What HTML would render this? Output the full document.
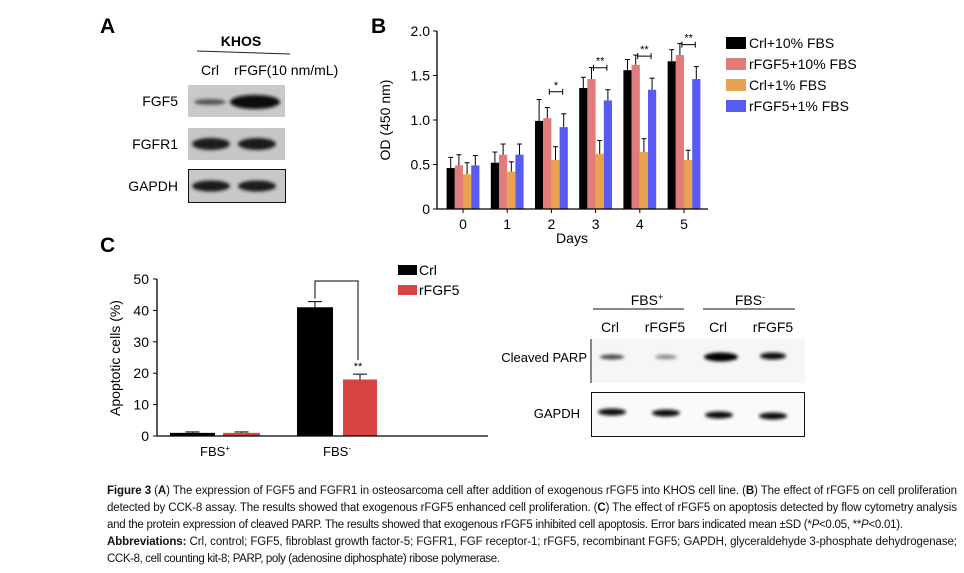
<!DOCTYPE html>
<html><head><meta charset="utf-8"><style>
html,body{margin:0;padding:0;background:#fff}
svg{display:block;font-family:"Liberation Sans",Arial,sans-serif}
</style></head><body>
<svg id="fig" width="964" height="573" viewBox="0 0 964 573" xmlns="http://www.w3.org/2000/svg">
<defs>
<filter id="bl" x="-30%" y="-100%" width="160%" height="300%"><feGaussianBlur stdDeviation="1.6"/></filter>
</defs>
<!-- Panel A -->
<g>
<text x="100" y="33" font-size="21" font-weight="bold">A</text>
<text x="241" y="46" font-size="14" font-weight="bold" text-anchor="middle">KHOS</text>
<line x1="197" y1="51" x2="290" y2="54" stroke="#222" stroke-width="1"/>
<text x="210" y="75" font-size="14" text-anchor="middle">Crl</text>
<text x="234" y="75" font-size="14">rFGF(10 nm/mL)</text>
<text x="178" y="106" font-size="14" text-anchor="end">FGF5</text>
<text x="178" y="149" font-size="14" text-anchor="end">FGFR1</text>
<text x="178" y="191" font-size="14" text-anchor="end">GAPDH</text>
<rect x="188" y="85" width="97" height="32" fill="#c9c9c9"/>
<ellipse cx="210" cy="102" rx="16" ry="3" fill="#555" filter="url(#bl)"/>
<ellipse cx="255" cy="102" rx="25" ry="7" fill="#111" filter="url(#bl)"/>
<rect x="188" y="128" width="97" height="32" fill="#c6c6c6"/>
<ellipse cx="211" cy="144" rx="19" ry="6" fill="#1a1a1a" filter="url(#bl)"/>
<ellipse cx="257" cy="144" rx="19" ry="6" fill="#1a1a1a" filter="url(#bl)"/>
<rect x="188.5" y="169.5" width="97" height="33" fill="#c8c8c8" stroke="#111"/>
<ellipse cx="211" cy="186" rx="19" ry="5.5" fill="#1a1a1a" filter="url(#bl)"/>
<ellipse cx="257" cy="186" rx="19" ry="5.5" fill="#1a1a1a" filter="url(#bl)"/>
</g>
<!-- Panel B -->
<g id="chartB">
<text x="371" y="33" font-size="21" font-weight="bold">B</text>
<text transform="translate(390,120) rotate(-90)" font-size="14" text-anchor="middle">OD (450 nm)</text>
<text x="572" y="243" font-size="14" text-anchor="middle">Days</text>
</g>
<!-- Panel C -->
<g id="chartC">
<text x="100" y="252" font-size="21" font-weight="bold">C</text>
<text transform="translate(120,358) rotate(-90)" font-size="14" text-anchor="middle">Apoptotic cells (%)</text>
</g>
<!-- Right blot -->
<g>
<text x="647" y="305" font-size="14" text-anchor="middle">FBS<tspan font-size="9" dy="-5">+</tspan></text>
<text x="750" y="305" font-size="14" text-anchor="middle">FBS<tspan font-size="9" dy="-5">-</tspan></text>
<line x1="593" y1="309" x2="684" y2="309" stroke="#111"/>
<line x1="703" y1="309" x2="795" y2="309" stroke="#111"/>
<text x="610" y="332" font-size="14" text-anchor="middle">Crl</text>
<text x="665" y="332" font-size="14" text-anchor="middle">rFGF5</text>
<text x="718" y="332" font-size="14" text-anchor="middle">Crl</text>
<text x="773" y="332" font-size="14" text-anchor="middle">rFGF5</text>
<text x="587" y="362" font-size="13" text-anchor="end">Cleaved PARP</text>
<text x="580" y="418" font-size="13" text-anchor="end">GAPDH</text>
<rect x="591" y="339" width="214" height="44" fill="#f6f6f6"/>
<line x1="591" y1="339" x2="591" y2="383" stroke="#111"/>
<ellipse cx="612" cy="357" rx="12" ry="2.5" fill="#444" filter="url(#bl)"/>
<ellipse cx="666" cy="357" rx="11" ry="2.2" fill="#888" filter="url(#bl)"/>
<ellipse cx="721" cy="357" rx="17" ry="4.5" fill="#000" filter="url(#bl)"/>
<ellipse cx="773" cy="356" rx="13" ry="3.5" fill="#111" filter="url(#bl)"/>
<rect x="591.5" y="392.5" width="213" height="44" fill="#fafafa" stroke="#111"/>
<ellipse cx="612" cy="412" rx="14" ry="3.5" fill="#111" filter="url(#bl)"/>
<ellipse cx="666" cy="413" rx="14" ry="3.5" fill="#111" filter="url(#bl)"/>
<ellipse cx="719" cy="415" rx="14" ry="3.5" fill="#111" filter="url(#bl)"/>
<ellipse cx="773" cy="416" rx="14" ry="3.5" fill="#111" filter="url(#bl)"/>
</g>
<!-- Caption -->
<g font-size="11.5" fill="#111">
<text x="107" y="494" textLength="850" lengthAdjust="spacing"><tspan font-weight="bold">Figure 3</tspan> (<tspan font-weight="bold">A</tspan>) The expression of FGF5 and FGFR1 in osteosarcoma cell after addition of exogenous rFGF5 into KHOS cell line. (<tspan font-weight="bold">B</tspan>) The effect of rFGF5 on cell proliferation</text>
<text x="107" y="511" textLength="850" lengthAdjust="spacing">detected by CCK-8 assay. The results showed that exogenous rFGF5 enhanced cell proliferation. (<tspan font-weight="bold">C</tspan>) The effect of rFGF5 on apoptosis detected by flow cytometry analysis</text>
<text x="107" y="528" textLength="796" lengthAdjust="spacing">and the protein expression of cleaved PARP. The results showed that exogenous rFGF5 inhibited cell apoptosis. Error bars indicated mean ±SD (*<tspan font-style="italic">P</tspan>&lt;0.05, **<tspan font-style="italic">P</tspan>&lt;0.01).</text>
<text x="107" y="545" textLength="850" lengthAdjust="spacing"><tspan font-weight="bold">Abbreviations:</tspan> Crl, control; FGF5, fibroblast growth factor-5; FGFR1, FGF receptor-1; rFGF5, recombinant FGF5; GAPDH, glyceraldehyde 3-phosphate dehydrogenase;</text>
<text x="107" y="562" textLength="393" lengthAdjust="spacing">CCK-8, cell counting kit-8; PARP, poly (adenosine diphosphate) ribose polymerase.</text>
</g>
</svg>
<script>
// ---- Panel B data ----
const daysB = ["0","1","2","3","4","5"];
const seriesNamesB = ["Crl+10% FBS","rFGF5+10% FBS","Crl+1% FBS","rFGF5+1% FBS"];
const crl10 = [0.46,0.52,0.99,1.36,1.56,1.66];
const rfgf10 = [0.49,0.61,1.02,1.46,1.62,1.73];
const crl1 = [0.39,0.42,0.55,0.62,0.64,0.55];
const rfgf1 = [0.49,0.61,0.92,1.22,1.34,1.46];
const crl10Err = [0.12,0.12,0.24,0.12,0.12,0.13];
const rfgf10Err = [0.12,0.12,0.12,0.13,0.11,0.13];
const crl1Err = [0.13,0.11,0.15,0.15,0.15,0.11];
const rfgf1Err = [0.11,0.12,0.15,0.12,0.13,0.14];
const sigB = ["","","*","**","**","**"];
const yTicksB = [0,0.5,1.0,1.5,2.0];
const yTickLabelsB = ["0","0.5","1.0","1.5","2.0"];
// ---- Panel C data ----
const groupsC = ["FBS+","FBS-"];
const crlC = [1.0,41];
const rfgfC = [1.0,18];
const crlCErr = [0.3,1.8];
const rfgfCErr = [0.3,1.7];
const yTicksC = [0,10,20,30,40,50];

const NS="http://www.w3.org/2000/svg";
function mk(parent,tag,attrs,text){const e=document.createElementNS(NS,tag);for(const k in attrs)e.setAttribute(k,attrs[k]);if(text!==undefined)e.textContent=text;parent.appendChild(e);return e;}

// Panel B
(function(){
const g=document.getElementById('chartB');
const y0=209,pxPer=89,xL=437,xR=708;
const yS=v=>y0-v*pxPer;
const xC=i=>463+i*44.2;
const colors=["#000000","#e27c7a","#e9a24f","#5959f4"];
const vals=[crl10,rfgf10,crl1,rfgf1], errs=[crl10Err,rfgf10Err,crl1Err,rfgf1Err];
const bw=8.2;
daysB.forEach((d,i)=>{
  vals.forEach((s,j)=>{
    const x=xC(i)-2*bw+j*bw;
    const r=mk(g,'rect',{x:x,y:yS(s[i]),width:bw,height:y0-yS(s[i]),fill:colors[j]});
    
    
    const top=yS(s[i]+errs[j][i]), cx=x+bw/2;
    mk(g,'line',{x1:cx,y1:yS(s[i]),x2:cx,y2:top,stroke:'#000','stroke-width':1});
    mk(g,'line',{x1:cx-2.5,y1:top,x2:cx+2.5,y2:top,stroke:'#000','stroke-width':1});
  });
  if(sigB[i]){
    const xa=xC(i)-2*bw+1.5*bw+2, xb=xC(i)-2*bw+3.5*bw-1;
    const yb=yS(rfgf1[i]+rfgf1Err[i])-22;
    mk(g,'path',{d:`M${xa} ${yb-3}V${yb+3}M${xa} ${yb}H${xb}M${xb} ${yb-3}V${yb+3}`,stroke:'#000',fill:'none','stroke-width':1});
    const t=mk(g,'text',{x:(xa+xb)/2,y:yb-3,'font-size':11,'text-anchor':'middle'},sigB[i]);
    
    
  }
  mk(g,'line',{x1:xC(i),y1:y0,x2:xC(i),y2:y0+4,stroke:'#000'});
  const tl=mk(g,'text',{x:xC(i),y:y0+20,'font-size':14,'text-anchor':'middle'},d);
  
  
});
mk(g,'line',{x1:xL,y1:y0,x2:xR,y2:y0,stroke:'#000','stroke-width':1.3});
mk(g,'line',{x1:xL,y1:y0,x2:xL,y2:yS(2),stroke:'#000','stroke-width':1.3});
yTicksB.forEach((v,k)=>{
  mk(g,'line',{x1:xL-4,y1:yS(v),x2:xL,y2:yS(v),stroke:'#000'});
  const t=mk(g,'text',{x:xL-7,y:yS(v)+5,'font-size':14,'text-anchor':'end'},yTickLabelsB[k]);
  
  
});
seriesNamesB.forEach((n,j)=>{
  const yy=43+j*21;
  const le=mk(g,'g',{});
  
  
  mk(le,'rect',{x:726,y:yy-6,width:20,height:12,fill:colors[j]});
  mk(le,'text',{x:749,y:yy+5,'font-size':14},n);
});
})();

// Panel C
(function(){
const g=document.getElementById('chartC');
const y0=436,pxPer=157/50,xL=157,xR=488;
const yS=v=>y0-v*pxPer;
const crlX=[170,297], rfX=[223,343], widths=[[45,37],[36,34]];
const cols=["#000000","#d84343"];
groupsC.forEach((gname,i)=>{
  [[crlC,crlCErr,crlX],[rfgfC,rfgfCErr,rfX]].forEach(([s,e,xs],j)=>{
    const w=widths[i][j];
    const r=mk(g,'rect',{x:xs[i],y:yS(s[i]),width:w,height:y0-yS(s[i]),fill:cols[j]});
    
    
    const cx=xs[i]+w/2, top=yS(s[i]+e[i]);
    mk(g,'line',{x1:cx,y1:yS(s[i]),x2:cx,y2:top,stroke:'#000'});
    mk(g,'line',{x1:cx-7,y1:top,x2:cx+7,y2:top,stroke:'#000'});
  });
  const cx=(crlX[i]+rfX[i]+widths[i][1])/2;
  const t=mk(g,'text',{x:cx,y:y0+20,'font-size':13,'text-anchor':'middle'},'FBS');
  mk(t,'tspan',{'font-size':8,dy:-5},i===0?'+':'-');
  
  
});
const bxa=crlX[1]+widths[1][0]/2, bxb=rfX[1]+widths[1][1]/2-2;
mk(g,'path',{d:`M${bxa} ${yS(crlC[1]+crlCErr[1])-3}V281H${bxb}V${yS(rfgfC[1]+rfgfCErr[1])-14}`,stroke:'#000',fill:'none'});
const st=mk(g,'text',{x:bxb,y:yS(rfgfC[1]+rfgfCErr[1])-4,'font-size':11,'text-anchor':'middle'},'**');


mk(g,'line',{x1:xL,y1:y0,x2:xR,y2:y0,stroke:'#000','stroke-width':1.3});
mk(g,'line',{x1:xL,y1:y0,x2:xL,y2:yS(50),stroke:'#000','stroke-width':1.3});
yTicksC.forEach(v=>{
  mk(g,'line',{x1:xL-4,y1:yS(v),x2:xL,y2:yS(v),stroke:'#000'});
  const t=mk(g,'text',{x:xL-8,y:yS(v)+5,'font-size':14,'text-anchor':'end'},String(v));
  
  
});
["Crl","rFGF5"].forEach((n,j)=>{
  const le=mk(g,'g',{});
  
  
  mk(le,'rect',{x:398,y:265+j*20,width:19,height:10,fill:cols[j]});
  mk(le,'text',{x:419,y:275+j*20,'font-size':14},n);
});
})();
</script>
</body></html>
